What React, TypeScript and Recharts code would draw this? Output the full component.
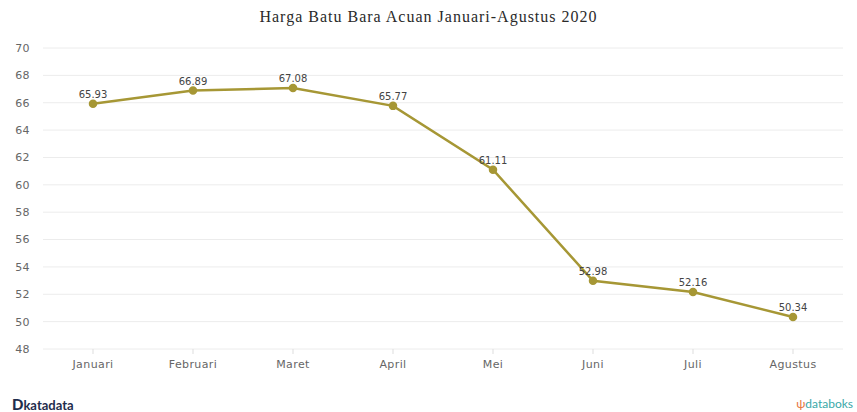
import { LineChart, Line, XAxis, YAxis, CartesianGrid, LabelList } from 'recharts'

const bulan = ['Januari', 'Februari', 'Maret', 'April', 'Mei', 'Juni', 'Juli', 'Agustus']
const hba = [65.93, 66.89, 67.08, 65.77, 61.11, 52.98, 52.16, 50.34]
const yTicks = [48, 50, 52, 54, 56, 58, 60, 62, 64, 66, 68, 70]

const data = bulan.map((name, i) => ({ name, hba: hba[i] }))

const tickFont = {
  fontSize: 11, fill: '#666', fontFamily: 'DejaVu Sans, Verdana, sans-serif', letterSpacing: 0.4,
}

export default function App() {
  return (
    <div style={{ position: 'absolute', left: 0, top: 0, width: 857, height: 412, background: '#fff' }}>
      <div
        style={{
          position: 'absolute', top: 8, left: 0, width: 857, textAlign: 'center',
          fontFamily: '"Liberation Serif", "Times New Roman", serif', fontSize: 16,
          letterSpacing: 1, color: '#2a2a2a',
        }}
      >
        Harga Batu Bara Acuan Januari-Agustus 2020
      </div>
      <LineChart width={857} height={412} data={data} margin={{ top: 48, right: 14, left: 0, bottom: 33 }}>
        <CartesianGrid vertical={false} stroke="#ececec" />
        <XAxis
          dataKey="name"
          padding={{ left: 50, right: 50 }}
          axisLine={false}
          tickLine={{ stroke: '#ddd' }}
          tickSize={5}
          tickMargin={6}
          tick={tickFont}
          height={30}
        />
        <YAxis
          domain={[48, 70]}
          ticks={yTicks}
          width={43}
          axisLine={false}
          tickLine={false}
          tickSize={0}
          tickMargin={13}
          tick={tickFont}
        />
        <Line
          type="linear"
          dataKey="hba"
          stroke="#a69735"
          strokeWidth={2.5}
          dot={{ r: 3, fill: '#a69735', stroke: '#a69735' }}
          isAnimationActive={false}
        >
          <LabelList
            dataKey="hba"
            position="top"
            offset={6}
            style={{ fontSize: 10, fill: '#444', fontFamily: 'DejaVu Sans, Verdana, sans-serif' }}
          />
        </Line>
      </LineChart>
      <div
        style={{
          position: 'absolute', left: 12, top: 395, fontFamily: 'Lato, "Open Sans", sans-serif',
          fontSize: 13, fontWeight: 700, color: '#1f2d4d',
        }}
      >
        <span style={{ fontSize: 15, fontWeight: 900 }}>D</span>katadata
      </div>
      <div
        style={{
          position: 'absolute', right: 4, top: 396, fontFamily: 'Lato, "Open Sans", sans-serif',
          fontSize: 12, color: '#3aa8a8',
        }}
      >
        <span style={{ color: '#e8743b' }}>ψ</span>databoks
      </div>
    </div>
  )
}
